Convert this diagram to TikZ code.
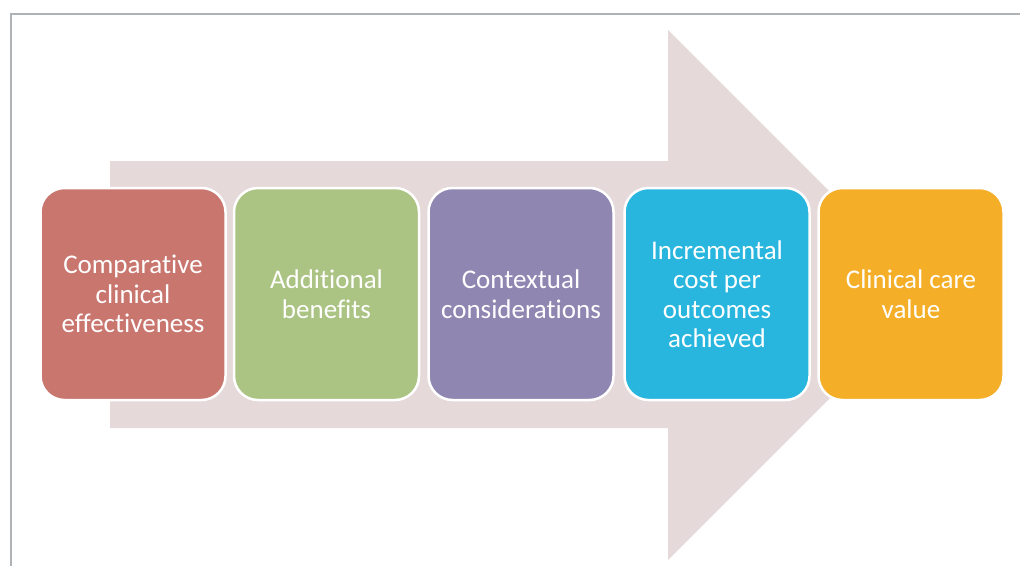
\documentclass[tikz,border=0pt]{standalone}
\usepackage{fontspec}
\setmainfont[Ligatures={NoCommon,NoContextual,NoRequired}]{Carlito}
\definecolor{frame}{HTML}{B0B3B6}
\definecolor{arrowfill}{HTML}{E6D9DA}
\definecolor{cred}{HTML}{C9766F}
\definecolor{cgreen}{HTML}{ABC383}
\definecolor{cpurple}{HTML}{8F86B2}
\definecolor{cblue}{HTML}{28B6DE}
\definecolor{corange}{HTML}{F4AE27}
\tikzset{
  stagebox/.style={draw=white, line width=2.5pt, rounded corners=24pt,
    minimum width=185pt, minimum height=212pt, text=white, align=center,
    font=\fontsize{27}{29.5}\selectfont, inner sep=0pt},
}
\begin{document}
\begin{tikzpicture}[x=1pt,y=-1pt]
\useasboundingbox (0,0) rectangle (1020,566);
\fill[white] (0,0) rectangle (1020,566);
\draw[frame, line width=2pt] (11,566) -- (11,14) -- (1020,14);
\fill[arrowfill] (110,161) -- (668,161) -- (668,30) -- (933,295) -- (668,560) -- (668,428) -- (110,428) -- cycle;
\node[stagebox, fill=cred] (b1) at (133,294) {Comparative\\clinical\\effectiveness};
\node[stagebox, fill=cgreen] (b2) at (326.5,294) {Additional\\benefits};
\node[stagebox, fill=cpurple] (b3) at (521,294) {Contextual\\considerations};
\node[stagebox, fill=cblue] (b4) at (717,294) {Incremental\\cost per\\outcomes\\achieved};
\node[stagebox, fill=corange] (b5) at (911,294) {Clinical care\\value};
\end{tikzpicture}
\end{document}
